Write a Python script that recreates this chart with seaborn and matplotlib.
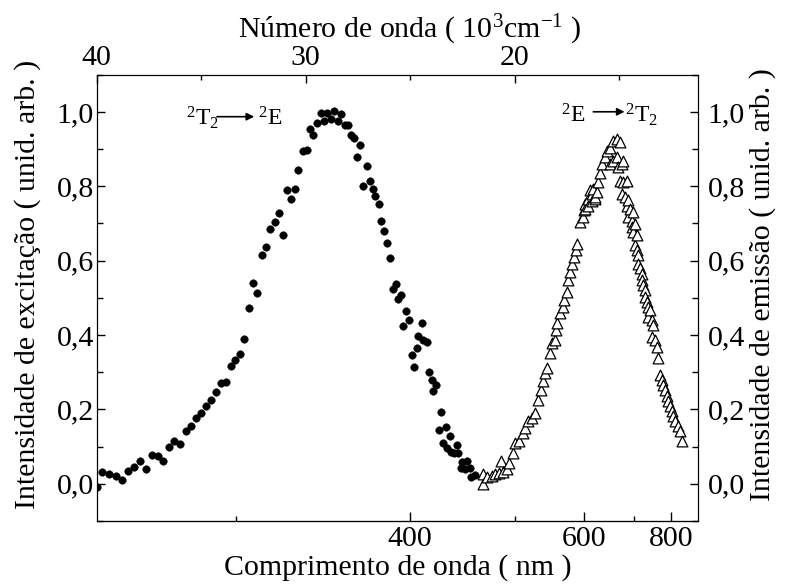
import numpy as np
import pandas as pd
import matplotlib
matplotlib.use("Agg")
import matplotlib.pyplot as plt
import seaborn as sns
from matplotlib.ticker import FixedLocator, MultipleLocator, FuncFormatter

# Excitation band (2T2 -> 2E): wavenumber in 10^3 cm^-1, intensity in arb. units
exc_wavenumber = [
    40.00, 39.73, 39.41, 39.09, 38.78, 38.49, 38.20, 37.93, 37.64, 37.37,
    37.08, 36.81, 36.54, 36.29, 36.01, 35.74, 35.47, 35.25, 35.01, 34.77,
    34.53, 34.29, 34.05, 33.81, 33.59, 33.38, 33.16, 32.95, 32.73, 32.54,
    32.32, 32.11, 31.88, 31.71, 31.48, 31.28, 31.09, 30.91, 30.72, 30.53,
    30.35, 30.11, 29.95, 29.79, 29.64, 29.47, 29.28, 29.12, 28.97, 28.80,
    28.63, 28.47, 28.30, 28.13, 27.96, 27.85, 27.69, 27.53, 27.39, 27.24,
    27.08, 26.94, 26.79, 26.67, 26.51, 26.38, 26.24, 26.10, 25.97, 25.84,
    25.69, 25.58, 25.45, 25.33, 25.20, 25.07, 24.93, 24.82, 24.69, 24.61,
    24.45, 24.37, 24.21, 24.10, 23.97, 23.89, 23.77, 23.64, 23.54, 23.44,
    23.30, 23.25, 23.10, 23.06, 22.90, 22.78, 22.70, 22.58, 22.51, 22.38,
    22.27, 22.14, 22.10, 21.90,
]
exc_intensity = [
    -0.010, 0.032, 0.027, 0.021, 0.010, 0.035, 0.045, 0.061, 0.040, 0.078,
    0.075, 0.060, 0.100, 0.115, 0.108, 0.141, 0.155, 0.177, 0.189, 0.209,
    0.226, 0.248, 0.271, 0.274, 0.317, 0.333, 0.349, 0.390, 0.474, 0.540,
    0.513, 0.616, 0.637, 0.685, 0.705, 0.727, 0.668, 0.790, 0.767, 0.792,
    0.845, 0.896, 0.898, 0.954, 0.939, 0.970, 0.997, 0.976, 0.997, 0.980,
    1.003, 0.976, 0.994, 0.965, 0.964, 0.938, 0.929, 0.878, 0.911, 0.802,
    0.855, 0.815, 0.793, 0.773, 0.753, 0.707, 0.680, 0.647, 0.606, 0.523,
    0.536, 0.496, 0.507, 0.424, 0.465, 0.440, 0.346, 0.315, 0.364, 0.398,
    0.431, 0.387, 0.380, 0.301, 0.280, 0.250, 0.266, 0.144, 0.192, 0.110,
    0.152, 0.097, 0.129, 0.086, 0.082, 0.104, 0.084, 0.043, 0.058, 0.039,
    0.061, 0.043, 0.017, 0.023,
]

# Emission band (2E -> 2T2): wavenumber in 10^3 cm^-1, intensity in arb. units
em_wavenumber = [
    21.53, 21.50, 21.31, 21.10, 20.94, 20.74, 20.67, 20.55, 20.38, 20.26,
    20.10, 19.99, 19.78, 19.62, 19.51, 19.35, 19.19, 19.03, 18.87, 18.76,
    18.66, 18.55, 18.44, 18.31, 18.23, 18.07, 18.02, 17.96, 17.83, 17.70,
    17.64, 17.51, 17.43, 17.35, 17.27, 17.16, 17.07, 17.00, 16.87, 16.72,
    16.70, 16.64, 16.64, 16.48, 16.48, 16.40, 16.32, 16.32, 16.24, 16.16,
    16.16, 16.08, 16.00, 15.92, 15.84, 15.68, 15.60, 15.44, 15.44, 15.28,
    15.28, 15.12, 15.12, 15.04, 14.96, 14.96, 14.88, 14.88, 14.80, 14.80,
    14.72, 14.64, 14.64, 14.56, 14.56, 14.48, 14.40, 14.40, 14.33, 14.33,
    14.25, 14.25, 14.16, 14.16, 14.09, 14.09, 14.00, 13.92, 13.92, 13.85,
    13.77, 13.77, 13.68, 13.61, 13.61, 13.53, 13.45, 13.45, 13.37, 13.29,
    13.21, 13.13, 13.05, 12.97, 12.89, 12.81, 12.73, 12.65, 12.57, 12.49,
    12.41, 12.33, 12.17, 12.09, 12.01,
]
em_intensity = [
    0.025, -0.001, 0.017, 0.021, 0.025, 0.030, 0.061, 0.032, 0.039, 0.057,
    0.084, 0.110, 0.115, 0.137, 0.150, 0.168, 0.177, 0.191, 0.226, 0.253,
    0.275, 0.298, 0.311, 0.351, 0.378, 0.387, 0.414, 0.432, 0.458, 0.476,
    0.494, 0.516, 0.548, 0.570, 0.592, 0.610, 0.628, 0.646, 0.704, 0.717,
    0.735, 0.753, 0.740, 0.766, 0.748, 0.789, 0.780, 0.761, 0.793, 0.766,
    0.771, 0.784, 0.811, 0.837, 0.860, 0.878, 0.896, 0.904, 0.860, 0.922,
    0.869, 0.927, 0.878, 0.851, 0.918, 0.815, 0.860, 0.780, 0.869, 0.811,
    0.771, 0.815, 0.748, 0.762, 0.717, 0.740, 0.708, 0.690, 0.730, 0.677,
    0.699, 0.641, 0.668, 0.628, 0.614, 0.592, 0.579, 0.565, 0.548, 0.534,
    0.521, 0.503, 0.489, 0.476, 0.449, 0.467, 0.440, 0.396, 0.427, 0.387,
    0.369, 0.338, 0.293, 0.280, 0.266, 0.253, 0.235, 0.222, 0.208, 0.195,
    0.182, 0.168, 0.155, 0.141, 0.115,
]

top_major = [40, 30, 20]
top_minor = [35, 25, 15]
bottom_major_nm = [400, 600, 800]
bottom_minor_nm = [300, 500, 700]

sns.set_style("ticks", rc={
    "axes.edgecolor": "black", "text.color": "black", "axes.labelcolor": "black",
    "xtick.color": "black", "ytick.color": "black", "axes.linewidth": 1.0,
})
plt.rcParams["font.family"] = ["Liberation Serif", "DejaVu Serif"]
plt.rcParams["mathtext.fontset"] = "custom"
plt.rcParams["mathtext.rm"] = "Liberation Serif"
plt.rcParams["mathtext.it"] = "Liberation Serif:italic"
plt.rcParams["mathtext.default"] = "regular"

TICK_FS = 21.5
LABEL_FS = 21.5

fig = plt.figure(figsize=(7.86, 5.84), dpi=100)
ax = fig.add_axes([0.123, 0.108, 0.765, 0.764])
ax2 = ax.twinx()

exc = pd.DataFrame({"k": exc_wavenumber, "I": exc_intensity})
em = pd.DataFrame({"k": em_wavenumber, "I": em_intensity})

sns.scatterplot(data=exc, x="k", y="I", ax=ax, marker="o", s=30,
                color="black", edgecolor="black", linewidth=0.3, zorder=3)
sns.scatterplot(data=em, x="k", y="I", ax=ax2, marker="^", s=60,
                color="white", edgecolor="black", linewidth=0.9, zorder=3)

ax.set_xlim(40, 11.23)
for a in (ax, ax2):
    a.set_ylim(-0.1, 1.1)
    a.yaxis.set_major_locator(MultipleLocator(0.2))
    a.yaxis.set_minor_locator(MultipleLocator(0.1))
    a.yaxis.set_major_formatter(FuncFormatter(lambda v, p: f"{v:.1f}".replace(".", ",")))

# Top axis: wavenumber
ax.xaxis.set_major_locator(FixedLocator(top_major))
ax.xaxis.set_minor_locator(FixedLocator(top_minor))
ax.xaxis.set_major_formatter(FuncFormatter(lambda v, p: f"{v:.0f}"))
ax.tick_params(axis="x", which="both", direction="in", bottom=False, top=True,
               labelbottom=False, labeltop=True, labelsize=TICK_FS, pad=3)
ax.tick_params(axis="x", which="major", length=5.5, width=1)
ax.tick_params(axis="x", which="minor", length=3.8, width=1)
ax.xaxis.set_label_position("top")
ax.set_xlabel("Número de onda ( 10$^{3}$cm$^{-1}$ )", fontsize=LABEL_FS, labelpad=5)
ax.xaxis.label.set_x(0.521)

# Left axis: excitation
ax.tick_params(axis="y", which="both", direction="in", left=True, right=False,
               labelsize=TICK_FS, pad=2)
ax.tick_params(axis="y", which="major", length=6, width=1)
ax.tick_params(axis="y", which="minor", length=4, width=1)
ax.set_ylabel("Intensidade de excitação ( unid. arb. )", fontsize=LABEL_FS, labelpad=11)
ax.yaxis.label.set_y(0.53)

# Right axis: emission
ax2.tick_params(axis="y", which="both", direction="in", right=True, left=False,
                labelsize=TICK_FS, pad=7)
ax2.tick_params(axis="y", which="major", length=6, width=1)
ax2.tick_params(axis="y", which="minor", length=4, width=1)
ax2.set_ylabel("Intensidade de emissão ( unid. arb. )", fontsize=LABEL_FS,
               rotation=90, labelpad=3)
ax2.yaxis.label.set_y(0.53)


def k_to_nm(k):
    k = np.asarray(k, dtype=float)
    with np.errstate(divide="ignore", invalid="ignore"):
        return 1e4 / k


# Bottom axis: wavelength
secax = ax.secondary_xaxis("bottom", functions=(k_to_nm, k_to_nm))
secax.xaxis.set_major_locator(FixedLocator(bottom_major_nm))
secax.xaxis.set_minor_locator(FixedLocator(bottom_minor_nm))
secax.xaxis.set_major_formatter(FuncFormatter(lambda v, p: f"{v:.0f}"))
secax.tick_params(axis="x", which="both", direction="in", labelsize=TICK_FS, pad=4)
secax.tick_params(axis="x", which="major", length=6.5, width=1)
secax.tick_params(axis="x", which="minor", length=3.8, width=1)
secax.set_xlabel("Comprimento de onda ( nm )", fontsize=LABEL_FS, labelpad=1)

# Transition labels
ANN_FS = 17
ax.text(0.148, 0.887, "$^{2}$T$_{2}$", transform=ax.transAxes, fontsize=ANN_FS,
        ha="left", va="baseline")
ax.annotate("", xy=(0.262, 0.906), xytext=(0.200, 0.906), xycoords="axes fraction",
            arrowprops=dict(arrowstyle="-|>", color="black", lw=1.2, mutation_scale=11,
                            shrinkA=0, shrinkB=0))
ax.text(0.268, 0.887, "$^{2}$E", transform=ax.transAxes, fontsize=ANN_FS,
        ha="left", va="baseline")

ax.text(0.773, 0.894, "$^{2}$E", transform=ax.transAxes, fontsize=ANN_FS,
        ha="left", va="baseline")
ax.annotate("", xy=(0.878, 0.917), xytext=(0.826, 0.917), xycoords="axes fraction",
            arrowprops=dict(arrowstyle="-|>", color="black", lw=1.2, mutation_scale=11,
                            shrinkA=0, shrinkB=0))
ax.text(0.878, 0.894, "$^{2}$T$_{2}$", transform=ax.transAxes, fontsize=ANN_FS,
        ha="left", va="baseline")

fig.savefig("out.png", dpi=100)
